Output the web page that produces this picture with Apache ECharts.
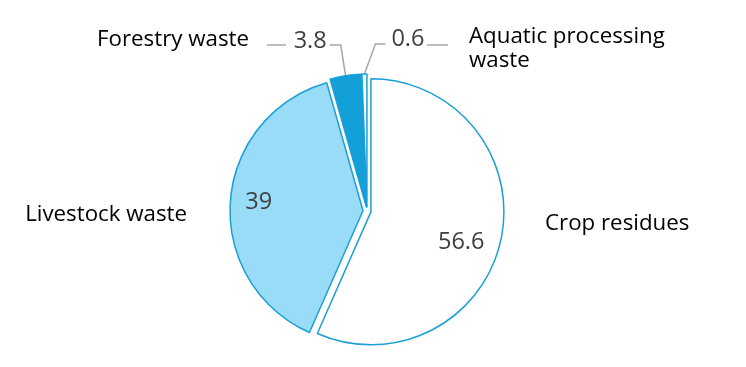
<!DOCTYPE html>
<html><head><meta charset="utf-8">
<script src="https://cdn.jsdelivr.net/npm/echarts@6/dist/echarts.min.js"></script>
<style>html,body{margin:0;padding:0;background:#fff}#c{width:746px;height:367px}</style>
</head><body><div id="c"></div>
<script>
const categories = ['Crop residues', 'Livestock waste', 'Forestry waste', 'Aquatic processing waste'];
const values = [56.6, 39, 3.8, 0.6];
const valueLabels = ['56.6', '39', '3.8', '0.6'];

const FONT = 'Open Sans';
const NAME_SIZE = 22.3;
const VALUE_SIZE = 23.5;
const BORDER = '#1a9fd7';
const fills = ['#ffffff', '#99dcf8', '#139fd8', '#ffffff'];
const CENTER = [367, 211];
const R = 133;

const chart = echarts.init(document.getElementById('c'), null, {renderer: 'canvas'});

function sliceStyle(i) {
  return {color: fills[i], borderColor: BORDER, borderWidth: 1.5};
}

const mainData = categories.map((name, i) => {
  const outside = i >= 2;
  return {
    name: name,
    value: values[i],
    selected: true,
    itemStyle: sliceStyle(i),
    select: {itemStyle: sliceStyle(i), label: {show: outside}},
    emphasis: {itemStyle: sliceStyle(i)},
    label: {
      show: outside,
      position: 'outside',
      formatter: valueLabels[i],
      color: '#404040',
      fontFamily: FONT,
      fontSize: VALUE_SIZE,
      distanceToLabelLine: 3
    },
    labelLine: {
      show: outside,
      length: 31,
      length2: 11,
      lineStyle: {color: '#a6a6a6', width: 1.5}
    }
  };
});

const innerData = categories.map((name, i) => ({
  name: name,
  value: values[i],
  selected: true,
  itemStyle: {color: 'transparent', borderWidth: 0},
  label: {show: i < 2, position: 'inside', formatter: valueLabels[i],
    color: '#404040', fontFamily: FONT, fontSize: VALUE_SIZE}
}));

const nameFont = NAME_SIZE + 'px "' + FONT + '"';

const option = {
  backgroundColor: '#ffffff',
  animation: false,
  series: [
    {
      type: 'pie',
      center: CENTER,
      radius: [0, R],
      startAngle: 90,
      clockwise: true,
      selectedMode: 'multiple',
      selectedOffset: 4,
      avoidLabelOverlap: false,
      emphasis: {disabled: true},
      silent: true,
      data: mainData,
      labelLayout: function (p) {
        if (!p.labelLinePoints) return {};
        const pts = p.labelLinePoints;
        if (p.dataIndex === 2) {
          return {dy: -4, labelLinePoints: pts};
        }
        if (p.dataIndex !== 3) return {};
        const p0 = pts[0];
        const p1 = [p0[0] + 11, p0[1] - 30];
        const p2 = [p1[0] + 10, p1[1]];
        const wantLeft = p2[0] + 6;
        return {dx: wantLeft - p.labelRect.x, dy: -4, labelLinePoints: [p0, p1, p2]};
      }
    },
    {
      type: 'pie',
      center: CENTER,
      radius: [68, R + 4],
      startAngle: 90,
      clockwise: true,
      selectedMode: 'multiple',
      selectedOffset: 0,
      avoidLabelOverlap: false,
      emphasis: {disabled: true},
      silent: true,
      z: 5,
      data: innerData,
      labelLayout: function (p) {
        if (p.dataIndex === 0) return {dx: -9, dy: 10};
        if (p.dataIndex === 1) return {dx: -3, dy: -1};
        return {};
      }
    }
  ],
  graphic: [
    {type: 'text', x: 249, y: 40, style: {text: categories[2], fill: '#000', font: nameFont, textAlign: 'right', textVerticalAlign: 'middle'}},
    {type: 'text', x: 469, y: 25, style: {text: 'Aquatic processing\nwaste', fill: '#000', font: nameFont, lineHeight: 24, textAlign: 'left', textVerticalAlign: 'top'}},
    {type: 'text', x: 187, y: 215, style: {text: categories[1], fill: '#000', font: nameFont, textAlign: 'right', textVerticalAlign: 'middle'}},
    {type: 'text', x: 545, y: 224, style: {text: categories[0], fill: '#000', font: nameFont, textAlign: 'left', textVerticalAlign: 'middle'}},
    {type: 'line', shape: {x1: 267, y1: 45, x2: 286, y2: 45}, style: {stroke: '#a6a6a6', lineWidth: 1.5}},
    {type: 'line', shape: {x1: 427, y1: 45, x2: 448, y2: 45}, style: {stroke: '#a6a6a6', lineWidth: 1.5}}
  ]
};
chart.setOption(option);
</script>
</body></html>
